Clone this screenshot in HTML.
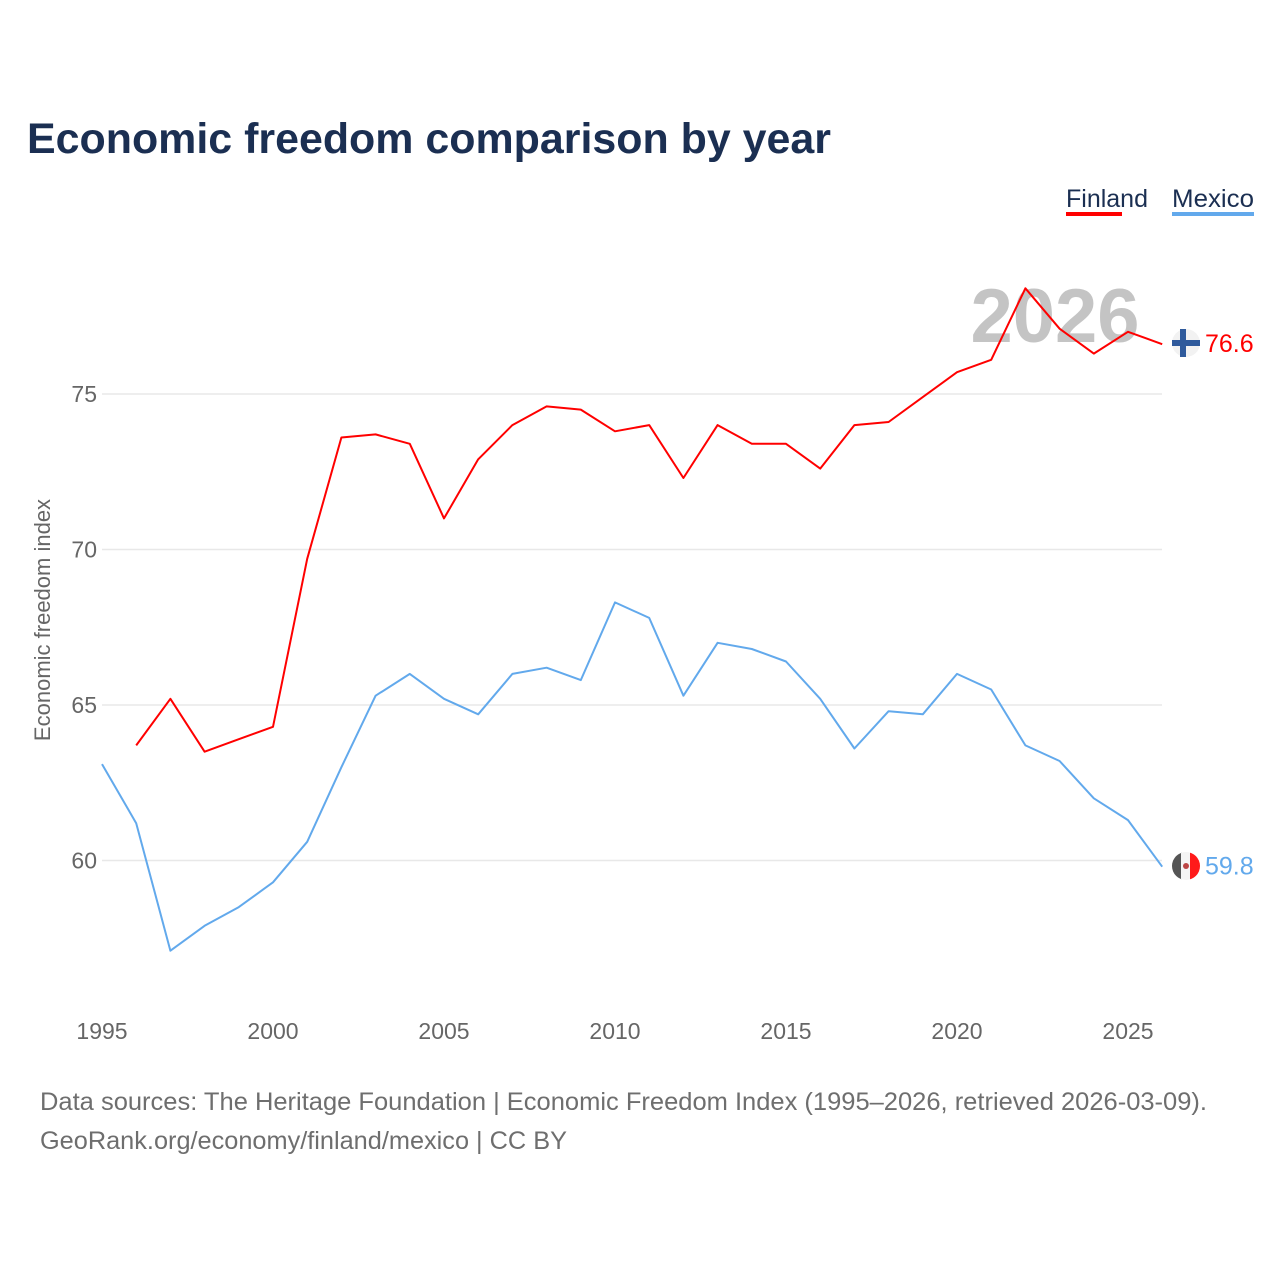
<!DOCTYPE html>
<html><head><meta charset="utf-8"><style>
body{margin:0;background:#fff;width:1280px;height:1280px;overflow:hidden;font-family:"Liberation Sans",sans-serif;}
</style></head><body>
<svg width="1280" height="1280" font-family="Liberation Sans, sans-serif">
<text x="27" y="153" font-size="43" font-weight="bold" fill="#1b2f52" textLength="804" lengthAdjust="spacingAndGlyphs">Economic freedom comparison by year</text>
<g>
<text x="1066" y="207" font-size="25" fill="#1b2f52">Finland</text>
<rect x="1066" y="212" width="56" height="4" fill="#ff0000"/>
<text x="1172" y="207" font-size="25" fill="#1b2f52" textLength="82" lengthAdjust="spacingAndGlyphs">Mexico</text>
<rect x="1172" y="212" width="82" height="4" fill="#62a9ec"/>
</g>
<text x="1055" y="342" font-size="76" font-weight="bold" fill="#c4c4c4" text-anchor="middle">2026</text>
<g id="grid"></g><g id="xt"></g><g id="lines"></g>
<text transform="translate(50,620) rotate(-90)" font-size="22" fill="#666" text-anchor="middle">Economic freedom index</text>
<text x="40" y="1110" font-size="25" fill="#6e6e6e" textLength="1167" lengthAdjust="spacingAndGlyphs">Data sources: The Heritage Foundation | Economic Freedom Index (1995–2026, retrieved 2026-03-09).</text>
<text x="40" y="1149" font-size="25" fill="#6e6e6e" textLength="527" lengthAdjust="spacingAndGlyphs">GeoRank.org/economy/finland/mexico | CC BY</text>
<g>
<circle cx="1186" cy="343" r="14" fill="#f2f2f2"/><rect x="1172" y="340" width="28" height="6" fill="#2f5a9c"/><rect x="1180" y="329" width="6" height="28" fill="#2f5a9c"/></g>
<g>
<clipPath id="mc"><circle cx="1186" cy="866" r="14"/></clipPath>
<g clip-path="url(#mc)"><rect x="1172" y="852" width="10" height="28" fill="#555"/><rect x="1181" y="852" width="10" height="28" fill="#f4f4f4"/><rect x="1190" y="852" width="10" height="28" fill="#ff1a1a"/><circle cx="1186" cy="866" r="3" fill="#b44"/></g></g>
</svg>
<script>
const years=[];for(let y=1995;y<=2026;y++)years.push(y);
const finland=[null,63.7,65.2,63.5,63.9,64.3,69.7,73.6,73.7,73.4,71.0,72.9,74.0,74.6,74.5,73.8,74.0,72.3,74.0,73.4,73.4,72.6,74.0,74.1,74.9,75.7,76.1,78.4,77.1,76.3,77.0,76.6];
const mexico=[63.1,61.2,57.1,57.9,58.5,59.3,60.6,63.0,65.3,66.0,65.2,64.7,66.0,66.2,65.8,68.3,67.8,65.3,67.0,66.8,66.4,65.2,63.6,64.8,64.7,66.0,65.5,63.7,63.2,62.0,61.3,59.8];
const yTicks=[60,65,70,75];
const xTicks=[1995,2000,2005,2010,2015,2020,2025];
const NS="http://www.w3.org/2000/svg";
const X=y=>102+(y-1995)*34.2;
const Y=v=>394+(75-v)*31.1;
function mk(t,a,p){const e=document.createElementNS(NS,t);for(const k in a)e.setAttribute(k,a[k]);p.appendChild(e);return e;}
const g=document.getElementById('grid');
yTicks.forEach(v=>{
 const l=mk('line',{x1:102,x2:1162,y1:Y(v),y2:Y(v),stroke:'#e8e8e8','stroke-width':1.5},g);
 
 
 const t=mk('text',{x:97,y:Y(v)+8,'font-size':23,fill:'#666','text-anchor':'end'},g);
 t.textContent=v;
 
 
});
const xt=document.getElementById('xt');
xTicks.forEach(v=>{
 const t=mk('text',{x:X(v),y:1039,'font-size':23,fill:'#666','text-anchor':'middle'},xt);
 t.textContent=v;
 
 
});
const L=document.getElementById('lines');
function line(data,color,name){
 const pts=[];data.forEach((v,i)=>{if(v!==null)pts.push(X(years[i]).toFixed(1)+','+Y(v).toFixed(1));});
 const p=mk('polyline',{points:pts.join(' '),fill:'none',stroke:color,'stroke-width':2,'stroke-linejoin':'round'},L);
 
 
 const last=data[data.length-1];
 const t=mk('text',{x:1205,y:Y(last)+8,'font-size':25,fill:color},L);
 t.textContent=last.toFixed(1);
 
 
}
line(finland,'#ff0000','finland');
line(mexico,'#62a9ec','mexico');
</script>
</body></html>
